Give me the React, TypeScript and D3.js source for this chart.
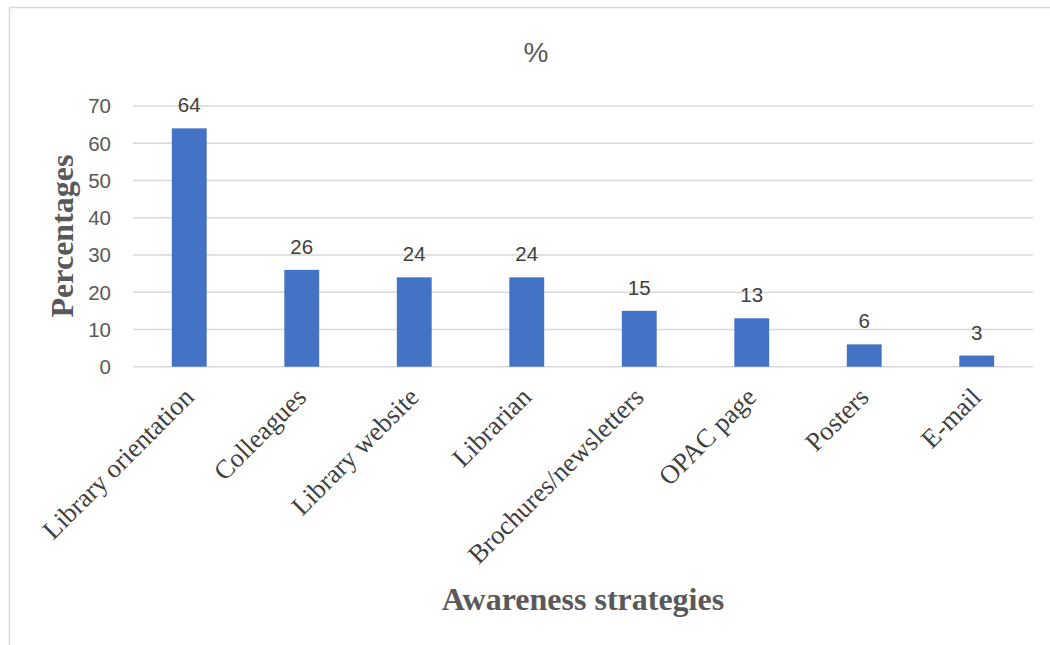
import React from "react";
import * as d3 from "d3";

const categories = [
  "Library orientation",
  "Colleagues",
  "Library website",
  "Librarian",
  "Brochures/newsletters",
  "OPAC page",
  "Posters",
  "E-mail",
];
const values = [64, 26, 24, 24, 15, 13, 6, 3];
const yTicks = [0, 10, 20, 30, 40, 50, 60, 70];
const chartTitle = "%";
const xTitle = "Awareness strategies";
const yTitle = "Percentages";

const W = 1050;
const H = 645;
const plot = { left: 133, right: 1033, top: 106, bottom: 366.7 };

export default function App() {
  const x = d3
    .scaleBand<string>()
    .domain(categories)
    .range([plot.left, plot.right])
    .paddingInner(0.69)
    .paddingOuter(0.345);
  const y = d3.scaleLinear().domain([0, 70]).range([plot.bottom, plot.top]);
  const sans = "'Liberation Sans', Arial, sans-serif";
  const serif = "'Liberation Serif', 'Times New Roman', serif";

  return (
    <svg
      width={W}
      height={H}
      style={{ position: "absolute", left: 0, top: 0, background: "#fff" }}
    >
      <rect x={0} y={0} width={W} height={H} fill="#fff" />
      <line x1={9.5} y1={7.5} x2={W} y2={7.5} stroke="#D9D9D9" strokeWidth={1.5} />
      <line x1={9.5} y1={7.5} x2={9.5} y2={H} stroke="#D9D9D9" strokeWidth={1.5} />

      {yTicks.map((t) => (
        <g key={t}>
          <line
            x1={plot.left}
            x2={plot.right}
            y1={y(t)}
            y2={y(t)}
            stroke="#D9D9D9"
            strokeWidth={1.5}
          />
          <text
            x={plot.left - 22}
            y={y(t)}
            dy="0.36em"
            textAnchor="end"
            fontFamily={sans}
            fontSize={20.5}
            fill="#595959"
          >
            {t}
          </text>
        </g>
      ))}

      {categories.map((c, i) => {
        const bx = x(c)!;
        const bw = x.bandwidth();
        const cx = bx + bw / 2;
        return (
          <g key={c}>
            <rect
              x={bx}
              y={y(values[i])}
              width={bw}
              height={y(0) - y(values[i])}
              fill="#4472C4"
            />
            <text
              x={cx}
              y={y(values[i]) - 16}
              textAnchor="middle"
              fontFamily={sans}
              fontSize={20.5}
              fill="#404040"
            >
              {values[i]}
            </text>
            <text
              transform={`translate(${cx + 6},${plot.bottom + 32}) rotate(-45)`}
              textAnchor="end"
              fontFamily={serif}
              fontSize={26.5}
              fill="#404040"
            >
              {c}
            </text>
          </g>
        );
      })}

      <text
        x={536}
        y={62}
        textAnchor="middle"
        fontFamily={sans}
        fontSize={28}
        fill="#595959"
      >
        {chartTitle}
      </text>

      <text
        transform={`translate(73,236) rotate(-90)`}
        textAnchor="middle"
        fontFamily={serif}
        fontWeight="bold"
        fontSize={32}
        fill="#595959"
      >
        {yTitle}
      </text>

      <text
        x={583}
        y={610}
        textAnchor="middle"
        fontFamily={serif}
        fontWeight="bold"
        fontSize={32}
        fill="#595959"
      >
        {xTitle}
      </text>
    </svg>
  );
}
